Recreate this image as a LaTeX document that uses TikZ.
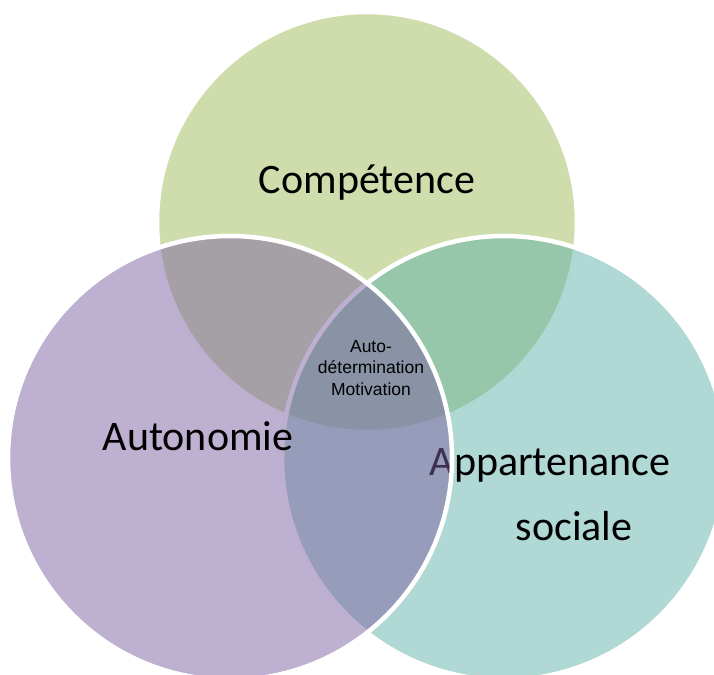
\documentclass[tikz,border=0pt]{standalone}
\usepackage{fontspec}
\setmainfont{Carlito}
\newfontfamily\corefont{Liberation Sans}
\usetikzlibrary{positioning}
\definecolor{venngreen}{RGB}{159,187,91}
\definecolor{vennteal}{RGB}{97,177,169}
\definecolor{vennpurple}{RGB}{125,97,161}

\begin{document}
\begin{tikzpicture}[
        x=1pt, y=-1pt,
        venn/.style={circle, draw=white, line width=4.5pt, fill opacity=0.5,
                     inner sep=0pt, minimum size=444pt},
        bigtext/.style={font=\fontsize{42}{50}\selectfont, anchor=base, inner sep=0pt},
        core/.style={font=\corefont\fontsize{17.5}{21.5}\selectfont, align=center, inner sep=0pt}
    ]
        \useasboundingbox (0,0) rectangle (714,674);
        \node[venn, fill=venngreen, minimum size=420pt] (comp) at (367,222) {};
        \node[bigtext] (comptext) at (367,193) {Compétence};
        \node[venn, fill=vennteal] (appart) at (504,458) {};
        \node[bigtext] (apptext) at (550,475) {Appartenance};
        \node[bigtext] (soctext) at (574,540) {sociale};
        \node[venn, fill=vennpurple] (auto) at (230,458) {};
        \node[bigtext] (autotext) at (198,450) {Autonomie};
        \node[core] (motiv) at (371,368) {Auto-\\détermination\\Motivation};
    \end{tikzpicture}
\end{document}
